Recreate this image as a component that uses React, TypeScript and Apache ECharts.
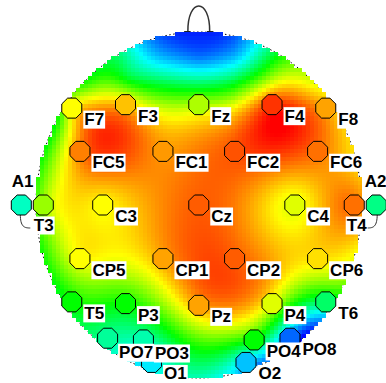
import React, { useEffect, useRef } from "react";
import * as echarts from "echarts";

// Electrode montage (normalized head coordinates: x right, y up, head edge = 1)
const electrodeNames = ["F7", "F3", "Fz", "F4", "F8", "FC5", "FC1", "FC2", "FC6", "A1", "T3", "C3", "Cz", "C4", "T4", "A2", "CP5", "CP1", "CP2", "CP6", "T5", "P3", "Pz", "P4", "T6", "PO7", "PO3", "PO4", "PO8", "O1", "O2"];
const electrodeX = [-0.78, -0.45, 0, 0.45, 0.78, -0.73, -0.22, 0.22, 0.73, -1.09, -0.955, -0.59, 0, 0.59, 0.955, 1.09, -0.73, -0.22, 0.22, 0.73, -0.78, -0.45, 0, 0.45, 0.78, -0.56, -0.34, 0.34, 0.56, -0.29, 0.29];
const electrodeY = [0.56, 0.58, 0.58, 0.58, 0.56, 0.31, 0.31, 0.31, 0.31, 0, 0, 0, 0, 0, 0, 0, -0.31, -0.31, -0.31, -0.31, -0.56, -0.57, -0.58, -0.57, -0.56, -0.77, -0.78, -0.78, -0.77, -0.91, -0.91];
// Normalized amplitude (0 = blue, 1 = red)
const electrodeValues = [0.75, 0.81, 0.67, 0.95, 0.84, 0.875, 0.85, 0.92, 0.89, 0.31, 0.65, 0.75, 0.91, 0.72, 0.89, 0.37, 0.75, 0.84, 0.91, 0.78, 0.5, 0.5, 0.84, 0.72, 0.4, 0.35, 0.33, 0.5, 0.1, 0.23, 0.19];
// Ear electrodes are drawn but not part of the scalp map
const offScalp = ["A1", "A2"];
// Map values read along the head rim (angle in degrees, counter-clockwise from the right)
const rimAngles = [0, 15, 30, 45, 60, 75, 90, 105, 120, 135, 150, 165, 180, 195, 210, 225, 240, 255, 270, 285, 300, 315, 330, 345];
const rimValues = [0.85, 0.78, 0.8, 0.72, 0.5, 0.12, 0.03, 0.1, 0.4, 0.52, 0.52, 0.52, 0.55, 0.52, 0.48, 0.42, 0.3, 0.27, 0.32, 0.18, 0.08, 0.05, 0.55, 0.76];
// Map values read in the frontal area (no electrode there)
const frontalX = [0, -0.26, 0.26, 0, -0.42, 0.39, 0, -0.18, 0.19];
const frontalY = [0.85, 0.85, 0.85, 0.75, 0.75, 0.75, 0.68, 0.68, 0.68];
const frontalValues = [0.12, 0.2, 0.22, 0.3, 0.42, 0.55, 0.45, 0.47, 0.5];
const colorScale = ["#0000ff", "#00ffff", "#00ff00", "#ffff00", "#ff0000"];

// thin plate spline fit
function fitTPS(xs: number[], ys: number[], vs: number[], lambda: number) {
  const n = xs.length;
  const m = n + 3;
  const U = (r: number) => (r > 1e-9 ? r * r * Math.log(r) : 0);
  const A: number[][] = [];
  for (let i = 0; i < m; i++) A.push(new Array(m + 1).fill(0));
  for (let i = 0; i < n; i++) {
    for (let j = 0; j < n; j++) {
      A[i][j] = U(Math.hypot(xs[i] - xs[j], ys[i] - ys[j])) + (i === j ? lambda : 0);
    }
    A[i][n] = 1; A[i][n + 1] = xs[i]; A[i][n + 2] = ys[i];
    A[n][i] = 1; A[n + 1][i] = xs[i]; A[n + 2][i] = ys[i];
    A[i][m] = vs[i];
  }
  for (let c = 0; c < m; c++) {
    let p = c;
    for (let r = c + 1; r < m; r++) if (Math.abs(A[r][c]) > Math.abs(A[p][c])) p = r;
    const t = A[c]; A[c] = A[p]; A[p] = t;
    for (let r = 0; r < m; r++) {
      if (r === c) continue;
      const f = A[r][c] / A[c][c];
      if (f === 0) continue;
      for (let k = c; k <= m; k++) A[r][k] -= f * A[c][k];
    }
  }
  const w = A.map((row, i) => row[m] / row[i]);
  return (x: number, y: number) => {
    let s = w[n] + w[n + 1] * x + w[n + 2] * y;
    for (let i = 0; i < n; i++) s += w[i] * U(Math.hypot(x - xs[i], y - ys[i]));
    return s;
  };
}

export default function App() {
  const ref = useRef<HTMLDivElement>(null);
  useEffect(() => {
    if (!ref.current) return;
    const chart = echarts.init(ref.current, null, { renderer: "svg" });

    const fx: number[] = [], fy: number[] = [], fv: number[] = [];
    electrodeNames.forEach((nm, i) => {
      if (offScalp.indexOf(nm) >= 0) return;
      fx.push(electrodeX[i]); fy.push(electrodeY[i]); fv.push(electrodeValues[i]);
    });
    rimAngles.forEach((a, i) => {
      const t = (a * Math.PI) / 180;
      fx.push(Math.cos(t)); fy.push(Math.sin(t)); fv.push(rimValues[i]);
    });
    frontalX.forEach((x, i) => {
      fx.push(x); fy.push(frontalY[i]); fv.push(frontalValues[i]);
    });
    const field = fitTPS(fx, fy, fv, 0.0005);

    const nx = 82, ny = 86;
    const hx = 1 / nx, hy = 1 / ny;
    const cells: number[][] = [];
    for (let j = 0; j < ny; j++) {
      for (let i = 0; i < nx; i++) {
        const x = -1 + (2 * i + 1) * hx;
        const y = -1 + (2 * j + 1) * hy;
        if (x * x + y * y > 1) continue;
        const v = Math.max(0, Math.min(1, field(x, y)));
        cells.push([x, y, v]);
      }
    }

    const cx = 199, cy = 205, rx = 163, ry = 173;
    const xMin = -1.2, xMax = 1.15, yMin = -1.02, yMax = 1.18;

    const labelPos: Record<string, number[]> = {
      A1: [0, -13], A2: [-2, -13], T3: [0, 31], T4: [2, 31], PO7: [21, 25], PO3: [21, 24],
    };

    const octagon = "path://M7,0 L17,0 L24,7 L24,17 L17,24 L7,24 L0,17 L0,7 Z";

    chart.setOption({
      animation: false,
      grid: {
        left: cx + xMin * rx,
        top: cy - yMax * ry,
        width: (xMax - xMin) * rx,
        height: (yMax - yMin) * ry,
      },
      xAxis: { type: "value", min: xMin, max: xMax, show: false },
      yAxis: { type: "value", min: yMin, max: yMax, show: false },
      visualMap: {
        show: false,
        type: "continuous",
        min: 0,
        max: 1,
        dimension: 2,
        seriesIndex: [1, 2],
        inRange: { color: colorScale },
      },
      series: [
        {
          type: "custom",
          z: 1,
          clip: false,
          silent: true,
          data: [[0, 0]],
          renderItem: (params: any, api: any) => {
            const pts: number[][] = [];
            for (let k = 0; k <= 180; k++) {
              const t = (k / 180) * Math.PI * 2;
              pts.push(api.coord([Math.cos(t), Math.sin(t)]));
            }
            const a = api.coord([-0.067, 1.0]);
            const b = api.coord([0.067, 1.0]);
            const ca = api.coord([-0.07, 1.2]);
            const cb = api.coord([0.07, 1.2]);
            const t1 = api.coord([-0.09, 1.0]);
            const t2 = api.coord([-0.05, 1.0]);
            const t3 = api.coord([0.05, 1.0]);
            const t4 = api.coord([0.09, 1.0]);
            const a1 = api.coord([electrodeX[9], electrodeY[9]]);
            const a2 = api.coord([electrodeX[15], electrodeY[15]]);
            return {
              type: "group",
              children: [
                {
                  type: "polyline",
                  shape: { points: pts },
                  style: { stroke: "#000", lineWidth: 1, lineDash: [1.5, 2.5], fill: null },
                },
                {
                  type: "bezierCurve",
                  shape: { x1: a[0], y1: a[1], x2: b[0], y2: b[1], cpx1: ca[0], cpy1: ca[1], cpx2: cb[0], cpy2: cb[1] },
                  style: { stroke: "#333", lineWidth: 1.5, fill: null },
                },
                { type: "line", shape: { x1: t1[0], y1: t1[1], x2: t2[0], y2: t2[1] }, style: { stroke: "#222", lineWidth: 2 } },
                { type: "line", shape: { x1: t3[0], y1: t3[1], x2: t4[0], y2: t4[1] }, style: { stroke: "#222", lineWidth: 2 } },
                {
                  type: "bezierCurve",
                  shape: { x1: a1[0] - 1, y1: a1[1] + 9, x2: a1[0] + 9, y2: a1[1] + 23, cpx1: a1[0] - 1, cpy1: a1[1] + 22, cpx2: a1[0] + 3, cpy2: a1[1] + 23 },
                  style: { stroke: "#333", lineWidth: 1, fill: null },
                },
                {
                  type: "bezierCurve",
                  shape: { x1: a2[0] + 1, y1: a2[1] + 9, x2: a2[0] - 9, y2: a2[1] + 23, cpx1: a2[0] + 1, cpy1: a2[1] + 22, cpx2: a2[0] - 3, cpy2: a2[1] + 23 },
                  style: { stroke: "#333", lineWidth: 1, fill: null },
                },
              ],
            };
          },
        },
        {
          type: "custom",
          z: 2,
          clip: false,
          silent: true,
          encode: { x: 0, y: 1 },
          data: cells,
          renderItem: (params: any, api: any) => {
            const x = api.value(0), y = api.value(1);
            const p0 = api.coord([x - hx, y + hy]);
            const p1 = api.coord([x + hx, y - hy]);
            const x0 = Math.round(p0[0]), y0 = Math.round(p0[1]);
            const x1 = Math.round(p1[0]), y1 = Math.round(p1[1]);
            return {
              type: "rect",
              shape: { x: x0, y: y0, width: x1 - x0, height: y1 - y0 },
              style: { fill: api.visual("color"), stroke: null },
            };
          },
        },
        {
          type: "scatter",
          z: 3,
          clip: false,
          symbol: octagon,
          symbolSize: 20,
          itemStyle: { borderColor: "#000", borderWidth: 1, opacity: 1 },
          label: {
            show: true,
            formatter: "{b}",
            position: [22, 22],
            align: "left",
            verticalAlign: "middle",
            color: "#000",
            fontFamily: "Liberation Sans",
            fontWeight: "bold",
            fontSize: 17,
            backgroundColor: "#fff",
            padding: [1, 1, 0, 1],
          },
          data: electrodeNames.map((name, i) => ({
            name,
            value: [electrodeX[i], electrodeY[i], electrodeValues[i]],
            label: labelPos[name] ? { position: labelPos[name] } : undefined,
          })),
        },
      ],
    });
    return () => chart.dispose();
  }, []);
  return <div ref={ref} style={{ position: "absolute", left: 0, top: 0, width: 386, height: 383 }} />;
}
